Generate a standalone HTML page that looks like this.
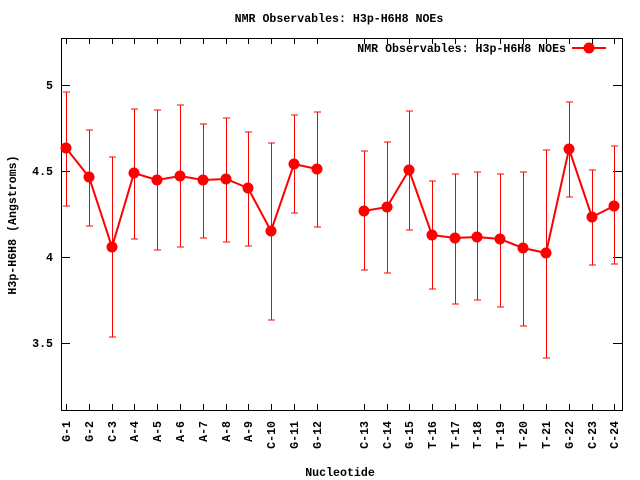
<!DOCTYPE html>
<html><head><style>body{margin:0;background:#fff}svg{display:block}text{font-family:"Liberation Mono",monospace;font-weight:bold;font-size:11.6px;fill:#000}</style></head>
<body>
<svg width="640" height="480" viewBox="0 0 640 480">
<rect x="61.5" y="38.5" width="561" height="372" fill="none" stroke="#000"/>
<g stroke="#000">
<line x1="61" y1="85.5" x2="70" y2="85.5"/><line x1="622" y1="85.5" x2="613" y2="85.5"/>
<line x1="61" y1="171.5" x2="70" y2="171.5"/><line x1="622" y1="171.5" x2="613" y2="171.5"/>
<line x1="61" y1="257.5" x2="70" y2="257.5"/><line x1="622" y1="257.5" x2="613" y2="257.5"/>
<line x1="61" y1="343.5" x2="70" y2="343.5"/><line x1="622" y1="343.5" x2="613" y2="343.5"/>
</g>
<g stroke="#000">
<path d="M66.5 410v-6M89.5 410v-6M112.5 410v-6M134.5 410v-6M157.5 410v-6M180.5 410v-6M203.5 410v-6M226.5 410v-6M248.5 410v-6M271.5 410v-6M294.5 410v-6M317.5 410v-6M364.5 410v-6M387.5 410v-6M409.5 410v-6M432.5 410v-6M455.5 410v-6M477.5 410v-6M500.5 410v-6M523.5 410v-6M546.5 410v-6M569.5 410v-6M592.5 410v-6M614.5 410v-6"/>
<path d="M66.5 38v6M89.5 38v6M112.5 38v6M134.5 38v6M157.5 38v6M180.5 38v6M203.5 38v6M226.5 38v6M248.5 38v6M271.5 38v6M294.5 38v6M317.5 38v6M364.5 38v6M387.5 38v6M409.5 38v6M432.5 38v6M455.5 38v6M477.5 38v6M500.5 38v6M523.5 38v6M546.5 38v6M569.5 38v6M592.5 38v6M614.5 38v6"/>
</g>
<g text-anchor="end">
<text x="53" y="89">5</text><text x="53" y="175">4.5</text><text x="53" y="261">4</text><text x="53" y="347">3.5</text>
</g>
<g text-anchor="end">
<text transform="translate(70,421) rotate(-90)">G-1</text>
<text transform="translate(93,421) rotate(-90)">G-2</text>
<text transform="translate(116,421) rotate(-90)">C-3</text>
<text transform="translate(138,421) rotate(-90)">A-4</text>
<text transform="translate(161,421) rotate(-90)">A-5</text>
<text transform="translate(184,421) rotate(-90)">A-6</text>
<text transform="translate(207,421) rotate(-90)">A-7</text>
<text transform="translate(230,421) rotate(-90)">A-8</text>
<text transform="translate(252,421) rotate(-90)">A-9</text>
<text transform="translate(275,421) rotate(-90)">C-10</text>
<text transform="translate(298,421) rotate(-90)">G-11</text>
<text transform="translate(321,421) rotate(-90)">G-12</text>
<text transform="translate(368,421) rotate(-90)">C-13</text>
<text transform="translate(391,421) rotate(-90)">C-14</text>
<text transform="translate(413,421) rotate(-90)">G-15</text>
<text transform="translate(436,421) rotate(-90)">T-16</text>
<text transform="translate(459,421) rotate(-90)">T-17</text>
<text transform="translate(481,421) rotate(-90)">T-18</text>
<text transform="translate(504,421) rotate(-90)">T-19</text>
<text transform="translate(527,421) rotate(-90)">T-20</text>
<text transform="translate(550,421) rotate(-90)">T-21</text>
<text transform="translate(573,421) rotate(-90)">G-22</text>
<text transform="translate(596,421) rotate(-90)">C-23</text>
<text transform="translate(618,421) rotate(-90)">C-24</text>
</g>
<text x="339" y="22" text-anchor="middle">NMR Observables: H3p-H6H8 NOEs</text>
<text x="340" y="476" text-anchor="middle">Nucleotide</text>
<text transform="translate(16,225) rotate(-90)" text-anchor="middle">H3p-H6H8 (Angstroms)</text>
<text x="566" y="52" text-anchor="end">NMR Observables: H3p-H6H8 NOEs</text>
<line x1="572" y1="48" x2="606" y2="48" stroke="#f00" stroke-width="2"/>
<circle cx="589" cy="48" r="5.5" fill="#f00"/>
<g stroke="#f00" stroke-width="1">
<path d="M66.5 92V206M63 92h7M63 206h7"/>
<path d="M89.5 130V226M86 130h7M86 226h7"/>
<path d="M112.5 157V337M109 157h7M109 337h7"/>
<path d="M134.5 109V239M131 109h7M131 239h7"/>
<path d="M157.5 110V250M154 110h7M154 250h7"/>
<path d="M180.5 105V247M177 105h7M177 247h7"/>
<path d="M203.5 124V238M200 124h7M200 238h7"/>
<path d="M226.5 118V242M223 118h7M223 242h7"/>
<path d="M248.5 132V246M245 132h7M245 246h7"/>
<path d="M271.5 143V320M268 143h7M268 320h7"/>
<path d="M294.5 115V213M291 115h7M291 213h7"/>
<path d="M317.5 112V227M314 112h7M314 227h7"/>
<path d="M364.5 151V270M361 151h7M361 270h7"/>
<path d="M387.5 142V273M384 142h7M384 273h7"/>
<path d="M409.5 111V230M406 111h7M406 230h7"/>
<path d="M432.5 181V289M429 181h7M429 289h7"/>
<path d="M455.5 174V304M452 174h7M452 304h7"/>
<path d="M477.5 172V300M474 172h7M474 300h7"/>
<path d="M500.5 174V307M497 174h7M497 307h7"/>
<path d="M523.5 172V326M520 172h7M520 326h7"/>
<path d="M546.5 150V358M543 150h7M543 358h7"/>
<path d="M569.5 102V197M566 102h7M566 197h7"/>
<path d="M592.5 170V265M589 170h7M589 265h7"/>
<path d="M614.5 146V264M611 146h7M611 264h7"/>
</g>
<polyline fill="none" stroke="#f00" stroke-width="2" points="66,148 89,177 112,247 134,173 157,180 180,176 203,180 226,179 248,188 271,231 294,164 317,169"/>
<polyline fill="none" stroke="#f00" stroke-width="2" points="364,211 387,207 409,170 432,235 455,238 477,237 500,239 523,248 546,253 569,149 592,217 614,206"/>
<g fill="#f00">
<circle cx="66" cy="148" r="5.5"/><circle cx="89" cy="177" r="5.5"/><circle cx="112" cy="247" r="5.5"/><circle cx="134" cy="173" r="5.5"/><circle cx="157" cy="180" r="5.5"/><circle cx="180" cy="176" r="5.5"/><circle cx="203" cy="180" r="5.5"/><circle cx="226" cy="179" r="5.5"/><circle cx="248" cy="188" r="5.5"/><circle cx="271" cy="231" r="5.5"/><circle cx="294" cy="164" r="5.5"/><circle cx="317" cy="169" r="5.5"/>
<circle cx="364" cy="211" r="5.5"/><circle cx="387" cy="207" r="5.5"/><circle cx="409" cy="170" r="5.5"/><circle cx="432" cy="235" r="5.5"/><circle cx="455" cy="238" r="5.5"/><circle cx="477" cy="237" r="5.5"/><circle cx="500" cy="239" r="5.5"/><circle cx="523" cy="248" r="5.5"/><circle cx="546" cy="253" r="5.5"/><circle cx="569" cy="149" r="5.5"/><circle cx="592" cy="217" r="5.5"/><circle cx="614" cy="206" r="5.5"/>
</g>
</svg>
</body></html>
